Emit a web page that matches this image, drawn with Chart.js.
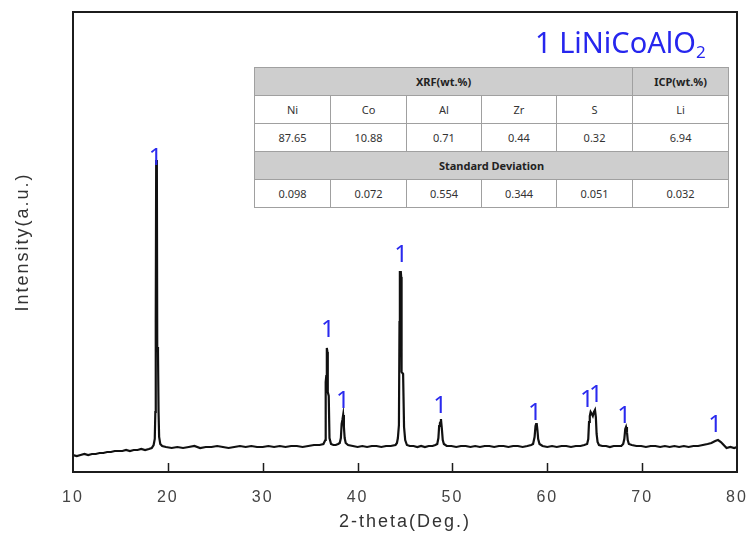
<!DOCTYPE html>
<html><head><meta charset="utf-8">
<script src="https://cdn.jsdelivr.net/npm/chart.js@4.4.1/dist/chart.umd.min.js"></script>
<style>
html,body{margin:0;padding:0;background:#fff;}
#wrap{position:relative;width:747px;height:534px;overflow:hidden;background:#fff;}
#c{position:absolute;left:0;top:0;}
#title{position:absolute;left:535px;top:22px;font-family:"Noto Sans",sans-serif;font-size:29px;color:#2626ee;white-space:nowrap;line-height:normal;}
#title sub{font-size:17px;vertical-align:-5px;line-height:0;}
#tbl{position:absolute;left:254px;top:67px;width:474px;border-collapse:collapse;background:#fff;font-family:"Noto Sans",sans-serif;font-size:11px;color:#333;table-layout:fixed;}
#tbl td{border:1px solid #a0a0a0;height:27px;padding:0;text-align:center;}
#tbl td.h{background:#cecece;font-weight:bold;color:#222;}
</style>
</head><body>
<div id="wrap">
<canvas id="c" width="747" height="534"></canvas>
<div id="title"></div>
<table id="tbl"></table>
</div>
<script>
// ---- XRD pattern data (2-theta in degrees, intensity in arbitrary units) ----
const twoTheta = [
 10.0,10.4,10.8,11.2,11.6,12.0,12.4,12.8,13.2,13.6,14.0,14.4,14.8,15.2,15.6,16.0,16.4,16.8,17.2,17.6,18.0,18.3,18.5,
 18.62,18.68,18.71,18.74,18.77,18.84,18.88,18.96,19.02,19.08,19.2,19.4,
 19.8,20.4,21.0,21.6,22.2,22.8,23.4,24.0,24.6,25.2,25.8,26.4,27.0,27.6,28.2,28.8,29.4,30.0,30.6,31.2,31.8,32.4,33.0,33.6,34.2,34.8,35.4,36.0,36.4,
 36.6,36.64,36.7,36.76,36.82,36.86,36.96,37.04,37.2,37.45,37.7,37.95,38.12,38.24,38.32,38.4,38.48,38.56,38.64,38.75,39.0,
 39.5,40.0,40.5,41.0,41.5,42.0,42.5,43.0,43.5,44.0,44.15,
 44.25,44.36,44.42,44.46,44.56,44.6,44.64,44.8,44.9,45.02,45.2,
 45.5,45.9,46.3,46.7,47.1,47.5,47.9,48.2,48.4,
 48.52,48.6,48.68,48.74,48.79,48.88,48.98,49.1,
 49.4,49.9,50.4,50.9,51.4,51.9,52.4,52.9,53.4,53.9,54.4,54.9,55.4,55.9,56.4,56.9,57.4,57.9,58.3,58.5,
 58.66,58.76,58.82,58.88,58.96,59.04,59.18,
 59.5,60.0,60.5,61.0,61.5,62.0,62.5,63.0,63.5,63.9,64.2,
 64.32,64.4,64.48,64.57,64.7,64.8,64.92,65.03,65.12,65.2,65.3,65.45,
 65.8,66.2,66.6,67.0,67.4,67.8,68.0,
 68.12,68.22,68.3,68.4,68.48,68.6,
 68.9,69.4,69.9,70.4,70.9,71.4,71.9,72.4,72.9,73.4,73.9,74.4,74.9,75.4,75.9,76.4,76.9,77.3,77.7,78.0,78.3,78.6,78.9,79.3,79.7,80.0
];
const intensity = [
 17,16,17,18,17,18,18,19,19,20,20,21,21,21,22,21,22,22,23,22,23,24,27,
 33,60,147,150,312,305,125,120,60,35,28,26,
 25,24,25,24,25,26,24,25,25,26,25,24,25,26,25,26,25,25,26,25,26,25,26,26,25,26,27,27,28,
 32,90,96,124,120,80,76,34,28,27,27,28,29,34,48,52,57,45,34,29,27,
 26,25,26,25,26,26,25,26,26,27,29,
 34,47,150,200,200,195,100,98,45,32,27,
 26,26,25,26,25,26,26,27,28,
 34,46,49,50,53,44,32,28,
 26,26,25,26,26,25,26,25,26,26,25,26,26,25,26,26,25,26,27,28,
 35,46,48,49,42,33,28,
 26,25,26,25,26,26,25,26,26,27,28,
 33,50,56,60,58,56,60,62,55,38,30,27,
 26,26,25,26,26,26,28,
 33,43,45,40,32,28,
 27,26,26,25,26,26,25,26,25,26,25,26,25,26,26,27,28,29,31,32,30,27,24,25,24,25
];
// Peak marker labels ("1" = LiNiCoAlO2 phase)
const peakLabelText = '1';
const peakLabelTheta = [18.7, 36.88, 38.46, 44.58, 48.69, 58.7, 64.18, 65.13, 68.09, 77.68];
const peakLabelIntensity = [307, 135, 64, 210, 59, 52, 65, 70, 49, 40];
// Axis
const xTickMin = 10, xTickMax = 80, xTickStep = 10;
const xTitle = '2-theta(Deg.)';
const yTitle = 'Intensity(a.u.)';
// Legend / table
const phaseNumber = '1';
const phaseName = 'LiNiCoAlO';
const phaseSub = '2';
const xrfHeader = 'XRF(wt.%)';
const icpHeader = 'ICP(wt.%)';
const elements = ['Ni','Co','Al','Zr','S','Li'];
const contents = ['87.65','10.88','0.71','0.44','0.32','6.94'];
const sdHeader = 'Standard Deviation';
const stdDev = ['0.098','0.072','0.554','0.344','0.051','0.032'];

// ---- legend title & table ----
document.getElementById('title').innerHTML = phaseNumber + ' ' + phaseName + '<sub>' + phaseSub + '</sub>';
const colW = [76,76,75,75,76,96];
let html = '<colgroup>' + colW.map(w => '<col style="width:' + w + 'px">').join('') + '</colgroup>';
html += '<tr><td class="h" colspan="5">' + xrfHeader + '</td><td class="h">' + icpHeader + '</td></tr>';
html += '<tr>' + elements.map(e => '<td>' + e + '</td>').join('') + '</tr>';
html += '<tr>' + contents.map(e => '<td>' + e + '</td>').join('') + '</tr>';
html += '<tr><td class="h" colspan="6">' + sdHeader + '</td></tr>';
html += '<tr>' + stdDev.map(e => '<td>' + e + '</td>').join('') + '</tr>';
document.getElementById('tbl').innerHTML = html;

// ---- plugins ----
const spacingPlugin = {
  id: 'spacing',
  beforeDraw(chart) { chart.ctx.letterSpacing = '2px'; }
};
const framePlugin = {
  id: 'frame',
  afterDraw(chart) {
    const {ctx, chartArea: a, scales} = chart;
    ctx.save();
    ctx.strokeStyle = '#1c1c1c';
    ctx.lineWidth = 2;
    ctx.strokeRect(a.left, a.top, a.right - a.left, a.bottom - a.top);
    ctx.lineWidth = 1.5;
    ctx.beginPath();
    scales.x.ticks.forEach(t => {
      if (t.value <= xTickMin || t.value >= xTickMax) return;
      const px = Math.round(scales.x.getPixelForValue(t.value)) + 0.5;
      ctx.moveTo(px, a.bottom);
      ctx.lineTo(px, a.bottom - 9);
    });
    ctx.stroke();
    ctx.restore();
  }
};
const labelPlugin = {
  id: 'peakLabels',
  afterDatasetsDraw(chart) {
    const {ctx, scales} = chart;
    ctx.save();
    ctx.letterSpacing = '0px';
    ctx.font = '24px "Noto Sans", sans-serif';
    ctx.fillStyle = '#2a2aee';
    ctx.textAlign = 'center';
    ctx.textBaseline = 'alphabetic';
    peakLabelTheta.forEach((t, i) => {
      ctx.fillText(peakLabelText, scales.x.getPixelForValue(t), scales.y.getPixelForValue(peakLabelIntensity[i]));
    });
    ctx.restore();
  }
};

const fontFam = '"Liberation Sans", Arial, sans-serif';
new Chart(document.getElementById('c'), {
  type: 'line',
  data: { datasets: [{
    data: twoTheta.map((x, i) => ({x: x, y: intensity[i]})),
    borderColor: '#111', borderWidth: 2.2, pointRadius: 0, tension: 0, fill: false
  }]},
  options: {
    responsive: false, animation: false, devicePixelRatio: 1,
    layout: { padding: { top: 12, right: 10, left: 0, bottom: 0 } },
    plugins: { legend: { display: false }, tooltip: { enabled: false } },
    scales: {
      x: {
        type: 'linear', min: xTickMin, max: xTickMax,
        ticks: { stepSize: xTickStep, color: '#444', font: { family: fontFam, size: 16 }, padding: 8, maxRotation: 0 },
        grid: { display: false }, border: { display: false },
        title: { display: true, text: xTitle, color: '#333', font: { family: fontFam, size: 18 }, padding: { top: 0, bottom: 1 } },
        afterFit(s) { s.height = 62; s.paddingLeft = 0; s.paddingRight = 0; }
      },
      y: {
        min: 0, max: 460,
        ticks: { display: false }, grid: { display: false }, border: { display: false },
        title: { display: true, text: yTitle, color: '#333', font: { family: fontFam, size: 18 }, padding: { top: 12, bottom: 0 } },
        afterFit(s) { s.width = 73; }
      }
    }
  },
  plugins: [spacingPlugin, labelPlugin, framePlugin]
});
</script>
</body></html>
